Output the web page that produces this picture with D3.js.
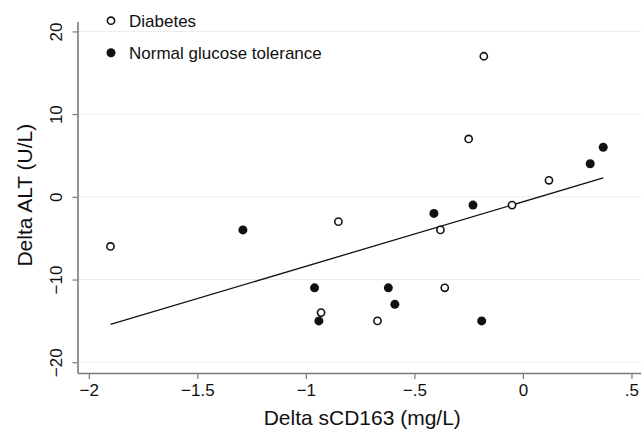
<!DOCTYPE html>
<html>
<head>
<meta charset="utf-8">
<script src="https://cdn.jsdelivr.net/npm/d3@7"></script>
<style>
  body { margin: 0; background: #fff; }
  text { font-family: "Liberation Sans", Arial, sans-serif; fill: #111; }
</style>
</head>
<body>
<svg width="641" height="430"></svg>
<script>
// Diabetes (open circles)
const diabetesX = [-1.90, -0.93, -0.85, -0.38, -0.05, -0.36, -0.67, -0.18, -0.25, 0.12];
const diabetesY = [-6, -14, -3, -4, -1, -11, -15, 17, 7, 2];
// Normal glucose tolerance (filled circles)
const ngtX = [-1.29, -0.96, -0.94, -0.41, -0.23, -0.62, -0.59, -0.19, 0.37, 0.31];
const ngtY = [-4, -11, -15, -2, -1, -11, -13, -15, 6, 4];

const xTicks = [-2, -1.5, -1, -0.5, 0, 0.5];
const yTicks = [-20, -10, 0, 10, 20];
const legendLabels = ['Diabetes', 'Normal glucose tolerance'];

const svg = d3.select('svg');
const width = +svg.attr('width');
const height = +svg.attr('height');

const margin = { top: 21.5, right: 0, bottom: 57, left: 77.5 };
const innerWidth = width - margin.left - margin.right;
const innerHeight = height - margin.top - margin.bottom;

const xScale = d3.scaleLinear().domain([-2.052, 0.544]).range([0, innerWidth]);
const yScale = d3.scaleLinear().domain([-21.3, 21.2]).range([innerHeight, 0]);

// stata style labels: −.5, .5
const fmt = v => {
  let s = String(Math.abs(v)).replace(/^0\./, '.');
  return (v < 0 ? '\u2212' : '') + s;
};

const g = svg.append('g').attr('transform', `translate(${margin.left},${margin.top})`);

// gridlines
g.append('g').selectAll('line').data(yTicks).enter().append('line')
  .attr('x1', 0).attr('x2', innerWidth)
  .attr('y1', d => yScale(d)).attr('y2', d => yScale(d))
  .attr('stroke', '#ececec').attr('stroke-width', 1);

// y axis
const yAxisG = g.append('g').call(d3.axisLeft(yScale).tickValues(yTicks).tickSize(5).tickSizeOuter(0).tickFormat(fmt));
yAxisG.select('.domain').attr('stroke', '#7a7a7a').attr('stroke-width', 1.6);
yAxisG.selectAll('.tick line').attr('stroke', '#7a7a7a').attr('stroke-width', 1.2);
yAxisG.selectAll('.tick text')
  .attr('x', null).attr('dy', null)
  .attr('transform', 'translate(-15.5,0) rotate(-90)')
  .attr('text-anchor', 'middle')
  .style('font-size', '17px');

// x axis
const xAxisG = g.append('g').attr('transform', `translate(0,${innerHeight})`)
  .call(d3.axisBottom(xScale).tickValues(xTicks).tickSize(6).tickSizeOuter(0).tickFormat(fmt));
xAxisG.select('.domain').attr('stroke', '#7a7a7a').attr('stroke-width', 1.6);
xAxisG.selectAll('.tick line').attr('stroke', '#7a7a7a').attr('stroke-width', 1.2);
xAxisG.selectAll('.tick text').attr('y', 23).attr('dy', null).style('font-size', '17px');

// axis titles
g.append('text')
  .attr('x', innerWidth / 2 + 3).attr('y', innerHeight + 52)
  .attr('text-anchor', 'middle').style('font-size', '21px')
  .text('Delta sCD163 (mg/L)');
g.append('text')
  .attr('transform', `translate(${32 - margin.left},${yScale(0.2)}) rotate(-90)`)
  .attr('text-anchor', 'middle').style('font-size', '21px')
  .text('Delta ALT (U/L)');

// regression line fitted on all points
const allX = diabetesX.concat(ngtX);
const allY = diabetesY.concat(ngtY);
const mx = d3.mean(allX), my = d3.mean(allY);
const slope = d3.sum(allX, (x, i) => (x - mx) * (allY[i] - my)) / d3.sum(allX, x => (x - mx) * (x - mx));
const fit = x => my + slope * (x - mx);
const ext = d3.extent(allX);
g.append('line')
  .attr('x1', xScale(ext[0])).attr('y1', yScale(fit(ext[0])))
  .attr('x2', xScale(ext[1])).attr('y2', yScale(fit(ext[1])))
  .attr('stroke', '#111').attr('stroke-width', 1.3);

// points
g.append('g').selectAll('circle').data(diabetesX).enter().append('circle')
  .attr('cx', d => xScale(d)).attr('cy', (d, i) => yScale(diabetesY[i]))
  .attr('r', 3.6).attr('fill', '#fff').attr('stroke', '#111').attr('stroke-width', 1.6);
g.append('g').selectAll('circle').data(ngtX).enter().append('circle')
  .attr('cx', d => xScale(d)).attr('cy', (d, i) => yScale(ngtY[i]))
  .attr('r', 4.5).attr('fill', '#111');

// legend
const legend = svg.append('g');
legend.append('circle').attr('cx', 111).attr('cy', 20.7).attr('r', 3.6)
  .attr('fill', '#fff').attr('stroke', '#111').attr('stroke-width', 1.6);
legend.append('circle').attr('cx', 111).attr('cy', 52.7).attr('r', 4.5).attr('fill', '#111');
legend.selectAll('text').data(legendLabels).enter().append('text')
  .attr('x', 129).attr('y', (d, i) => 26.5 + i * 32)
  .style('font-size', '17px')
  .text(d => d);
</script>
</body>
</html>
